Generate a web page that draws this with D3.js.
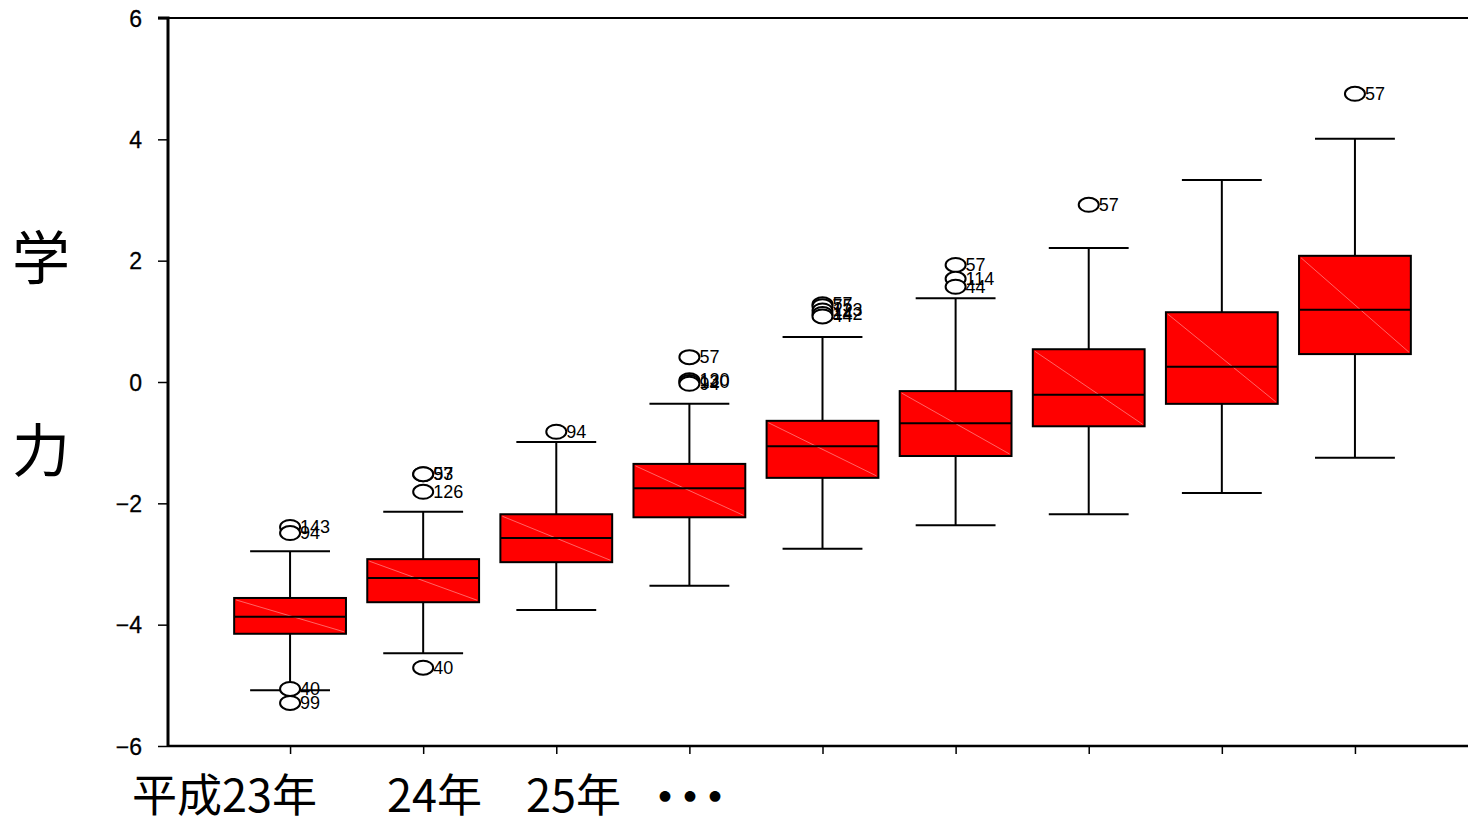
<!DOCTYPE html>
<html><head><meta charset="utf-8">
<script src="https://cdn.jsdelivr.net/npm/d3@7"></script>
<style>body{margin:0;background:#fff}svg{display:block}</style>
</head><body><svg id="c" width="1468" height="820"></svg>
<script>
const categories = ["H23","H24","H25","H26","H27","H28","H29","H30","H31"];
const whiskerHigh = [-2.79,-2.14,-0.99,-0.36,0.74,1.38,2.21,3.33,4.01];
const q3 = [-3.56,-2.92,-2.18,-1.35,-0.64,-0.15,0.54,1.15,2.08];
const median = [-3.87,-3.23,-2.57,-1.75,-1.06,-0.68,-0.21,0.25,1.19];
const q1 = [-4.15,-3.63,-2.97,-2.23,-1.58,-1.22,-0.73,-0.36,0.46];
const whiskerLow = [-5.08,-4.47,-3.76,-3.36,-2.75,-2.36,-2.18,-1.83,-1.25];
const outlierCat = ["H23","H23","H23","H23","H24","H24","H24","H24","H25","H26","H26","H26","H26","H27","H27","H27","H27","H27","H28","H28","H28","H29","H31"];
const outlierVal = [-2.39,-2.49,-5.06,-5.29,-1.52,-1.52,-1.81,-4.71,-0.82,0.41,0.03,0.0,-0.03,1.28,1.25,1.18,1.12,1.08,1.93,1.70,1.57,2.92,4.75];
const outlierLab = ["143","94","40","99","93","57","126","40","94","57","130","120","94","57","75","123","142","44","57","114","44","57","57"];
const yTicks = [6,4,2,0,-2,-4,-6];
const xLabelTexts = ["平成23年","24年","25年","・・・"];
const yTitle = ["学","力"];

(function(){
const svg = d3.select("#c");
const pl = 168, pr = 1477, pt = 18, pb = 746;
const x = d3.scalePoint().domain(categories).range([pl, pr]).padding(0.917);
const y = d3.scaleLinear().domain([-6,6]).range([pb, pt]);
const step = x.step();
const bw = step*0.84, cw = step*0.6;

svg.append("line").attr("x1",pl).attr("x2",1468).attr("y1",pt).attr("y2",pt).attr("stroke","#000").attr("stroke-width",2);

const yAxis = d3.axisLeft(y).tickValues(yTicks).tickSize(10).tickPadding(16).tickFormat(d=>d<0?"\u2212"+Math.abs(d):d);
const ga = svg.append("g").attr("transform",`translate(${pl},0)`).call(yAxis);
ga.select(".domain").attr("stroke-width",3).attr("d",`M-10,${pt}H0V${pb}`);
ga.selectAll(".tick line").attr("stroke-width",1.5);
ga.selectAll(".tick text").attr("font-family","Liberation Sans, Arial, sans-serif").attr("font-size",23).attr("fill","#000").attr("dy","0.36em").attr("stroke","#000").attr("stroke-width",0.3);

const xAxis = d3.axisBottom(x).tickSize(8).tickFormat("");
const gx = svg.append("g").attr("transform",`translate(0,${pb})`).call(xAxis);
gx.select(".domain").attr("stroke-width",2.5).attr("d",`M${pl},0H1468`);
gx.selectAll(".tick line").attr("stroke-width",1.5);

const data = categories.map((c,i)=>({c,lo:whiskerLow[i],q1:q1[i],med:median[i],q3:q3[i],hi:whiskerHigh[i]}));
const g = svg.append("g");
data.forEach(d=>{
  const cx = x(d.c);
  g.append("line").attr("x1",cx).attr("x2",cx).attr("y1",y(d.hi)).attr("y2",y(d.q3)).attr("stroke","#000").attr("stroke-width",2);
  g.append("line").attr("x1",cx).attr("x2",cx).attr("y1",y(d.q1)).attr("y2",y(d.lo)).attr("stroke","#000").attr("stroke-width",2);
  g.append("line").attr("x1",cx-cw/2).attr("x2",cx+cw/2).attr("y1",y(d.hi)).attr("y2",y(d.hi)).attr("stroke","#000").attr("stroke-width",2);
  g.append("line").attr("x1",cx-cw/2).attr("x2",cx+cw/2).attr("y1",y(d.lo)).attr("y2",y(d.lo)).attr("stroke","#000").attr("stroke-width",2);
  g.append("rect").attr("x",cx-bw/2).attr("y",y(d.q3)).attr("width",bw).attr("height",y(d.q1)-y(d.q3)).attr("fill","#ff0000").attr("stroke","#000").attr("stroke-width",2);
  g.append("line").attr("x1",cx-bw/2+2).attr("y1",y(d.q3)+2).attr("x2",cx+bw/2-2).attr("y2",y(d.q1)-2).attr("stroke","rgba(255,200,200,0.5)").attr("stroke-width",1);
  g.append("line").attr("x1",cx-bw/2).attr("x2",cx+bw/2).attr("y1",y(d.med)).attr("y2",y(d.med)).attr("stroke","#000").attr("stroke-width",2);
});

const oData = outlierCat.map((c,i)=>({c,v:outlierVal[i],l:outlierLab[i]}));
const og = svg.append("g");
oData.forEach(o=>{
  og.append("ellipse").attr("cx",x(o.c)).attr("cy",y(o.v)).attr("rx",10).attr("ry",7).attr("fill","#fff").attr("stroke","#000").attr("stroke-width",2);
});
oData.forEach(o=>{
  og.append("text").attr("x",x(o.c)+10).attr("y",y(o.v)+6).attr("font-family","Liberation Sans Narrow, Liberation Sans, sans-serif").attr("font-size",18).attr("fill","#000").text(o.l);
});

svg.append("text").attr("x",41).attr("y",279).attr("text-anchor","middle").attr("font-family","Noto Sans CJK JP").attr("font-size",58).text(yTitle[0]);
svg.append("text").attr("x",41).attr("y",472).attr("text-anchor","middle").attr("font-family","Noto Sans CJK JP").attr("font-size",58).text(yTitle[1]);
const xlx = [132,387,526,644];
xLabelTexts.forEach((t,i)=>{
  const tx = svg.append("text").attr("x",xlx[i]).attr("y",812).attr("font-family","Noto Sans CJK JP").attr("font-size",45).text(t);
  if (i===3) tx.attr("font-size",42).attr("letter-spacing","-17px").attr("font-weight","bold");
});
})();
</script></body></html>
